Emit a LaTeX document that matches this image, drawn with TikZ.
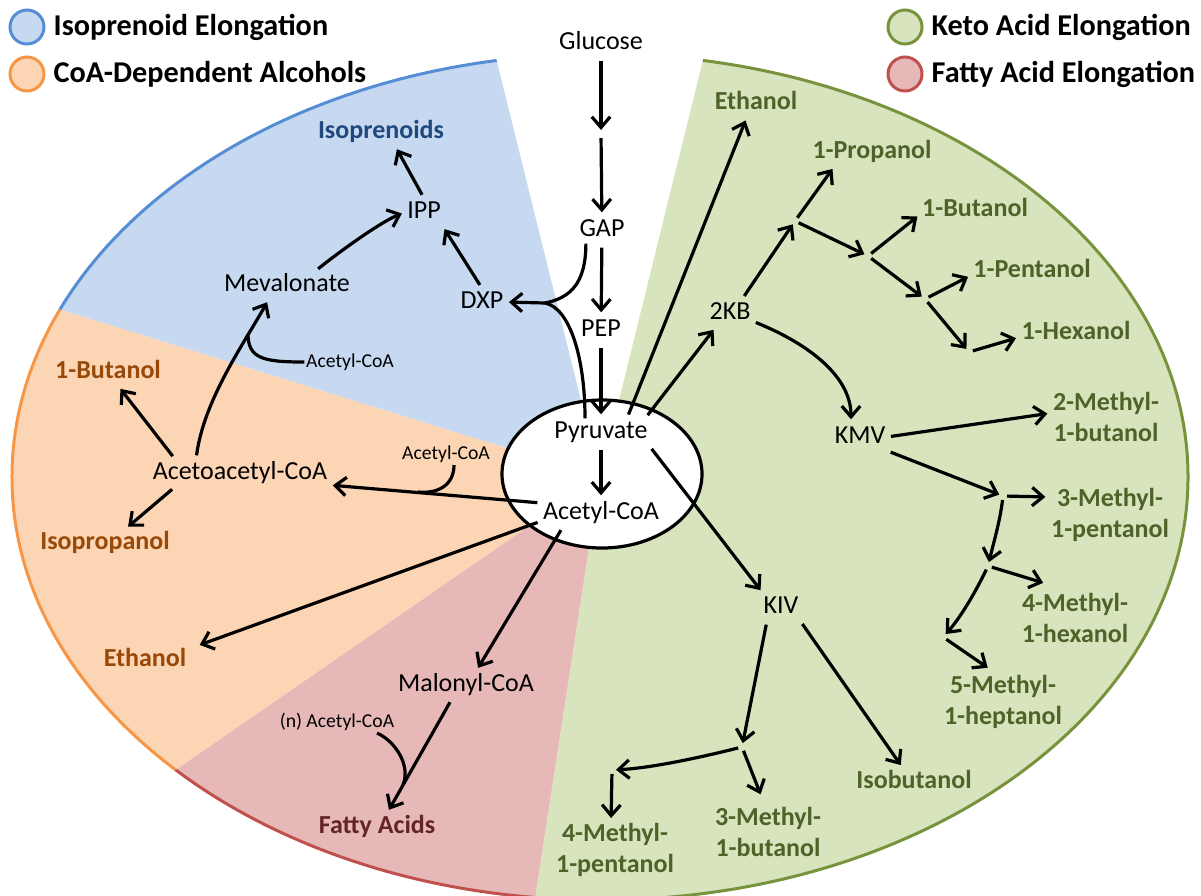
\documentclass[tikz,border=0pt]{standalone}
\usepackage{fontspec}
\setmainfont{Carlito}
\usetikzlibrary{arrows.meta}

\definecolor{isoFill}{RGB}{198,217,240}
\definecolor{isoLine}{RGB}{85,142,213}
\definecolor{isoText}{RGB}{31,73,125}
\definecolor{coaFill}{RGB}{252,213,181}
\definecolor{coaLine}{RGB}{247,150,70}
\definecolor{coaText}{RGB}{152,72,7}
\definecolor{ketoFill}{RGB}{215,228,189}
\definecolor{ketoLine}{RGB}{119,147,60}
\definecolor{ketoText}{RGB}{79,98,40}
\definecolor{fatFill}{RGB}{230,185,184}
\definecolor{fatLine}{RGB}{192,80,77}
\definecolor{fatText}{RGB}{99,37,36}

\tikzset{
  met/.style={font=\fontsize{18.5}{21.5}\selectfont, inner sep=1pt, text height=13.5pt, text depth=3.6pt},
  prod/.style={font=\fontsize{18.5}{21.5}\selectfont\bfseries, inner sep=1pt, text height=13.5pt, text depth=3.6pt},
  prodtwo/.style={font=\fontsize{18.5}{21.5}\selectfont\bfseries, inner sep=1pt, align=center},
  cof/.style={font=\fontsize{14}{17}\selectfont, inner sep=1pt, text height=10.5pt, text depth=2.8pt},
  legtext/.style={font=\fontsize{21.5}{26}\selectfont\bfseries, anchor=west, inner sep=1pt},
  arr/.style={-{Straight Barb[length=2.7mm,width=4.6mm]}, line width=0.8mm, shorten <=1mm, shorten >=1mm},
  lnk/.style={line width=0.8mm},
  sector/.style={line width=0.75mm}
}

\begin{document}
\begin{tikzpicture}[x=0.25mm, y=-0.25mm]
    \useasboundingbox (0,0) rectangle (1201,895);

    % Sectors of the big ellipse
    \begin{scope}
        \clip (600,477) -- (394,-353) -- (-478,-353) -- (-478,143) -- cycle;
        \draw[sector, draw=isoLine, fill=isoFill] (600,477) ellipse[x radius=147mm, y radius=105.75mm];
    \end{scope}
    \begin{scope}
        \clip (600,477) -- (-478,143) -- (-478,1057) -- (-240,1057) -- cycle;
        \draw[sector, draw=coaLine, fill=coaFill] (600,477) ellipse[x radius=147mm, y radius=105.75mm];
    \end{scope}
    \begin{scope}
        \clip (600,477) -- (-240,1057) -- (-240,1309) -- (472,1309) -- cycle;
        \draw[sector, draw=fatLine, fill=fatFill] (600,477) ellipse[x radius=147mm, y radius=105.75mm];
    \end{scope}
    \begin{scope}
        \clip (600,477) -- (472,1309) -- (1400,1309) -- (1400,-357) -- (806,-357) -- cycle;
        \draw[sector, draw=ketoLine, fill=ketoFill] (600,477) ellipse[x radius=147mm, y radius=105.75mm];
    \end{scope}

    % Legend
    \draw[sector, draw=isoLine, fill=isoFill] (27,27) circle[radius=4.25mm];
    \draw[sector, draw=coaLine, fill=coaFill] (27,74) circle[radius=4.25mm];
    \draw[sector, draw=ketoLine, fill=ketoFill] (905,27) circle[radius=4.25mm];
    \draw[sector, draw=fatLine, fill=fatFill] (905,74) circle[radius=4.25mm];
    \node[legtext] (legiso) at (52,27) {Isoprenoid Elongation};
    \node[legtext] (legcoa) at (52,74) {CoA-Dependent Alcohols};
    \node[legtext] (legketo) at (930,27) {Keto Acid Elongation};
    \node[legtext] (legfat) at (930,74) {Fatty Acid Elongation};

    % Central pathway
    \draw[line width=0.8mm, fill=white] (602,474) ellipse[x radius=25mm, y radius=18.5mm];
    \node[met] (glc) at (601,43) {Glucose};
    \coordinate (glcmid) at (601,134);
    \node[met] (gap) at (602,230) {GAP};
    \node[met] (pep) at (601,330) {PEP};
    \node[met] (pyr) at (601,432) {Pyruvate};
    \node[met] (acoa) at (601,513) {Acetyl-CoA};
    \draw[arr] (glc) -- (glcmid);
    \draw[arr] (glcmid) -- (gap);
    \draw[arr] (gap) -- (pep);
    \draw[arr] (pep) -- (pyr);
    \draw[arr] (pyr) -- (acoa);

    % Isoprenoid elongation
    \node[prod, isoText] (iso) at (381,132) {Isoprenoids};
    \node[met] (ipp) at (424,212) {IPP};
    \node[met] (mev) at (287,285) {Mevalonate};
    \node[met] (dxp) at (482,302) {DXP};
    \node[cof] (acA) at (350,362) {Acetyl-CoA};
    \coordinate (dxpjoin) at (545,303);
    \coordinate (mevjoin) at (248,334);
    \draw[arr] (ipp.north) -- ([xshift=3.5mm]iso.south);
    \draw[arr] ([xshift=7mm]mev.north) .. controls +(25,-20) and +(-25,10) .. (ipp.west);
    \draw[arr] (dxp.north) -- (ipp.south east);
    \draw[lnk] ([xshift=2mm]gap.south west) .. controls +(0,40) and +(25,-5) .. (dxpjoin);
    \draw[lnk] ([xshift=-4mm]pyr.north) .. controls +(0,-60) and +(25,5) .. (dxpjoin);
    \draw[arr, shorten <=0pt] (dxpjoin) -- (dxp.east);

    % CoA-dependent alcohols
    \node[prod, coaText] (but1) at (108,372) {1-Butanol};
    \node[met] (acac) at (240,473) {Acetoacetyl-CoA};
    \node[prod, coaText] (ipo) at (105,543) {Isopropanol};
    \node[prod, coaText] (eto) at (145,660) {Ethanol};
    \node[cof] (acB) at (446,454) {Acetyl-CoA};
    \coordinate (acacjoin) at (418,492);
    \draw[arr] ([xshift=-11mm]acac.north) .. controls +(8,-60) and +(-25,45) .. ([xshift=-4.5mm]mev.south);
    \draw[lnk] (acA.west) .. controls +(-40,0) and +(0,25) .. (mevjoin);
    \draw[arr] ([xshift=6mm]acac.north west) -- ([xshift=2.5mm]but1.south);
    \draw[arr] ([xshift=6mm]acac.south west) -- ([xshift=5mm]ipo.north);
    \draw[arr] ([yshift=2.5mm]acoa.west) -- ([yshift=-3mm]acac.east);
    \draw[lnk] ([xshift=2mm]acB.south) .. controls +(0,20) and +(20,2) .. (acacjoin);
    \draw[arr] ([yshift=-2mm]acoa.west) -- ([xshift=2mm]eto.north east);

    % Fatty acid elongation
    \node[met] (mal) at (466,685) {Malonyl-CoA};
    \node[cof] (acn) at (337,722) {(n) Acetyl-CoA};
    \node[prod, fatText] (fa) at (377,827) {Fatty Acids};
    \coordinate (fajoin) at (403,785);
    \draw[arr] ([xshift=-9.5mm]acoa.south) -- ([xshift=2.5mm]mal.north);
    \draw[arr] ([xshift=-3.5mm]mal.south) -- ([xshift=2.5mm]fa.north);
    \draw[lnk] ([xshift=10mm]acn.south) .. controls +(18,8) and +(8,-20) .. (fajoin);

    % Keto acid elongation
    \node[prod, ketoText] (etg) at (756,103) {Ethanol};
    \node[prod, ketoText] (pro1) at (872,152) {1-Propanol};
    \node[prod, ketoText] (bu1) at (975,210) {1-Butanol};
    \node[prod, ketoText] (pen1) at (1032,271) {1-Pentanol};
    \node[prod, ketoText] (hex1) at (1076,333) {1-Hexanol};
    \node[met] (kb) at (730,313) {2KB};
    \node[met] (kmv) at (860,437) {KMV};
    \node[prodtwo, ketoText] (mb) at (1106,417) {2-Methyl-\\1-butanol};
    \node[prodtwo, ketoText] (mp) at (1110,515) {3-Methyl-\\1-pentanol};
    \node[prodtwo, ketoText] (mhx) at (1075,618) {4-Methyl-\\1-hexanol};
    \node[prodtwo, ketoText] (mhp) at (1003,702) {5-Methyl-\\1-heptanol};
    \node[met] (kiv) at (781,607) {KIV};
    \node[prod, ketoText] (ibu) at (914,782) {Isobutanol};
    \node[prodtwo, ketoText] (mbu) at (768,832) {3-Methyl-\\1-butanol};
    \node[prodtwo, ketoText] (mpe) at (615,850) {4-Methyl-\\1-pentanol};
    \coordinate (br1) at (795,221);
    \coordinate (br2) at (868,256);
    \coordinate (br3) at (925,299);
    \coordinate (br4) at (969,352);
    \coordinate (br5) at (1003,496);
    \coordinate (br6) at (988,566);
    \coordinate (br7) at (943,637);
    \coordinate (br8) at (742,747);
    \coordinate (br9) at (612,770);

    \draw[arr] ([xshift=6.5mm]pyr.north) -- ([xshift=-2.25mm]etg.south);
    \draw[arr] ([xshift=-1mm]pyr.north east) -- ([xshift=-3.5mm]kb.south);
    \draw[arr] ([xshift=3mm]kb.north) -- (br1);
    \draw[arr] (br1) -- ([xshift=6mm]pro1.south west);
    \draw[arr] (br1) -- (br2);
    \draw[arr] (br2) -- ([yshift=-1mm]bu1.west);
    \draw[arr] (br2) -- (br3);
    \draw[arr] (br3) -- ([yshift=-1mm]pen1.west);
    \draw[arr] (br3) -- (br4);
    \draw[arr] (br4) -- ([yshift=-1mm]hex1.west);
    \draw[arr] ([yshift=-2mm]kb.east) .. controls +(50,20) and +(0,-50) .. ([xshift=-2.25mm]kmv.north);
    \draw[arr] (kmv.east) -- ([yshift=1mm]mb.west);
    \draw[arr] (kmv.south east) -- (br5);
    \draw[arr] (br5) -- ([yshift=4.5mm]mp.west);
    \draw[arr] (br5) .. controls +(-3,25) and +(6,-25) .. (br6);
    \draw[arr] (br6) -- ([xshift=-7mm,yshift=2mm]mhx.north);
    \draw[arr] (br6) .. controls +(-12,25) and +(18,-20) .. (br7);
    \draw[arr] (br7) -- ([xshift=-3mm,yshift=1mm]mhp.north);
    \draw[arr] (pyr.south east) -- ([xshift=-4.5mm]kiv.north);
    \draw[arr] (kiv.south east) -- ([xshift=-2.75mm]ibu.north);
    \draw[arr] ([xshift=-3.5mm]kiv.south) -- (br8);
    \draw[arr] (br8) -- ([xshift=-1.5mm,yshift=2mm]mbu.north);
    \draw[arr] (br8) .. controls +(-40,10) and +(40,-2) .. (br9);
    \draw[arr] (br9) -- ([xshift=-1mm]mpe.north);
\end{tikzpicture}
\end{document}
